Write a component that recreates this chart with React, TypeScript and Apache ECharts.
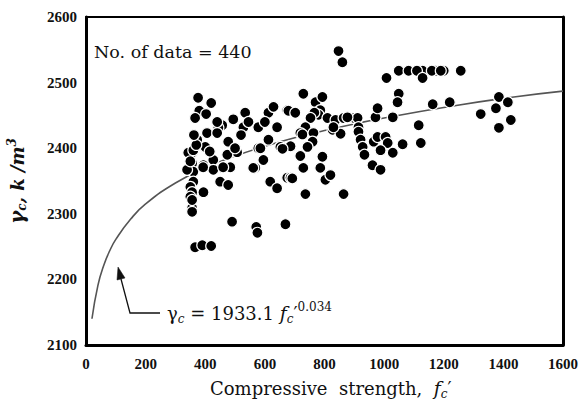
import React, { useEffect, useRef } from "react";
import * as echarts from "echarts";

// Scatter data (compressive strength, unit weight)
const strength = [
  376, 420, 380, 366, 403, 534, 494, 457, 444, 406, 373, 528, 578, 612, 629, 641, 612, 675, 440, 477,
  507, 356, 356, 394, 427, 474, 484, 457, 427, 360, 450, 360, 350, 356, 394, 578, 595, 568, 618, 641,
  675, 652, 400, 343, 360, 339, 350, 356, 356, 356, 366, 390, 420, 490, 571, 575, 669, 585, 561, 686,
  477, 460, 393, 370, 350, 362, 415, 440, 520, 545, 600, 500,
  860, 847, 1008, 729, 770, 793, 786, 780, 766, 679, 702, 753, 736, 719, 726, 810, 837, 864, 900, 971,
  978, 827, 854, 911, 914, 914, 921, 928, 934, 763, 760, 743, 686, 659, 719, 793, 965, 978, 1005, 1012,
  988, 1029, 1062, 729, 786, 803, 820, 692, 961, 988, 736, 864, 830, 877,
  1049, 1082, 1129, 1173, 1200, 1257, 1110, 1160, 1190, 1129, 1049, 1045, 1163, 1220, 1385, 1415, 1375,
  1324, 1425, 1385, 1116, 1123, 1029,
];
const density = [
  2477, 2469, 2457, 2446, 2452, 2454, 2444, 2435, 2431, 2423, 2413, 2432, 2432, 2454, 2463, 2432, 2413, 2458, 2423, 2410,
  2394, 2393, 2377, 2374, 2382, 2390, 2371, 2370, 2367, 2364, 2349, 2349, 2341, 2333, 2333, 2400, 2382, 2370, 2349, 2339,
  2355, 2402, 2402, 2393, 2397, 2367, 2326, 2309, 2321, 2303, 2249, 2252, 2251, 2288, 2280, 2271, 2284, 2400, 2370, 2355,
  2344, 2371, 2371, 2405, 2380, 2420, 2395, 2440, 2420, 2440, 2440, 2400,
  2531, 2548, 2507, 2483, 2470, 2478, 2458, 2451, 2454, 2457, 2454, 2446, 2432, 2423, 2421, 2446, 2443, 2446, 2446, 2447,
  2461, 2428, 2422, 2446, 2432, 2425, 2413, 2402, 2390, 2423, 2410, 2402, 2403, 2399, 2388, 2387, 2410, 2417, 2417, 2408,
  2397, 2393, 2406, 2370, 2370, 2352, 2359, 2354, 2374, 2367, 2330, 2330, 2432, 2447,
  2518, 2518, 2518, 2518, 2518, 2518, 2518, 2518, 2518, 2507, 2483, 2470, 2467, 2470, 2478, 2470, 2461,
  2452, 2443, 2431, 2435, 2408, 2447,
];

// Fitted curve γc = 1933.1 fc'^0.034
const curveStrength = [20, 40, 60, 80, 100, 150, 200, 300, 400, 500, 600, 700, 800, 900, 1000, 1200, 1400, 1600];
const curveDensity = [2140, 2191, 2222, 2244, 2261, 2292, 2315, 2347, 2370, 2388, 2403, 2416, 2427, 2437, 2446, 2462, 2476, 2487];

const xTicks = { min: 0, max: 1600, interval: 200 };
const yTicks = { min: 2100, max: 2600, interval: 100 };

const SERIF = "'DejaVu Serif', 'Liberation Serif', serif";
const TICKFONT = "'Liberation Serif', 'DejaVu Serif', serif";

const tickLabel = {
  color: "#111",
  fontFamily: TICKFONT,
  fontWeight: "bold",
  fontSize: 15,
  formatter: (v: number) => String(v),
};

export default function App() {
  const ref = useRef<HTMLDivElement>(null);
  useEffect(() => {
    if (!ref.current) return;
    const chart = echarts.init(ref.current, null, { renderer: "svg" });
    const scatter = strength.map((x, i) => [x, density[i]]);
    const curve = curveStrength.map((x, i) => [x, curveDensity[i]]);
    const frameAxis = {
      type: "value",
      axisLine: { show: true, lineStyle: { color: "#000", width: 2.5 } },
      axisTick: { show: false },
      axisLabel: { show: false },
      splitLine: { show: false },
    };
    chart.setOption({
      animation: false,
      backgroundColor: "#fff",
      grid: {
        left: 86,
        right: 16,
        top: 17,
        bottom: 58,
        containLabel: false,
        outerBoundsMode: "none",
      },
      xAxis: [
        {
          type: "value",
          ...xTicks,
          axisLine: { show: true, onZero: false, lineStyle: { color: "#000", width: 3 } },
          axisTick: { show: false },
          splitLine: { show: false },
          axisLabel: { margin: 11, ...tickLabel },
        },
        { ...frameAxis, ...xTicks, position: "top", axisLine: { show: true, onZero: false, lineStyle: { color: "#000", width: 2 } } },
      ],
      yAxis: [
        {
          type: "value",
          ...yTicks,
          axisLine: { show: true, onZero: false, lineStyle: { color: "#000", width: 3 } },
          axisTick: { show: false },
          splitLine: { show: false },
          axisLabel: { margin: 9, ...tickLabel },
          name: "{g|γ}{sub|c}{n|, k /m}{sup|3}",
          nameLocation: "middle",
          nameRotate: 90,
          nameGap: 58,
          nameTextStyle: {
            rich: {
              g: { fontFamily: SERIF, fontStyle: "italic", fontWeight: "bold", fontSize: 20, color: "#111", lineHeight: 22 },
              sub: { fontFamily: SERIF, fontStyle: "italic", fontWeight: "bold", fontSize: 12, color: "#111", lineHeight: 8, verticalAlign: "bottom" },
              n: { fontFamily: SERIF, fontStyle: "italic", fontWeight: "bold", fontSize: 18, color: "#111", lineHeight: 22 },
              sup: { fontFamily: SERIF, fontStyle: "italic", fontWeight: "bold", fontSize: 12, color: "#111", lineHeight: 8, verticalAlign: "top" },
            },
          },
        },
        { ...frameAxis, ...yTicks, position: "right", axisLine: { show: true, onZero: false, lineStyle: { color: "#000", width: 3 } } },
      ],
      series: [
        {
          type: "line",
          data: curve,
          smooth: true,
          showSymbol: false,
          symbol: "none",
          lineStyle: { color: "#555", width: 1.6 },
          z: 1,
        },
        {
          type: "scatter",
          data: scatter,
          symbol: "circle",
          symbolSize: 11,
          itemStyle: { color: "#000", borderColor: "#fff", borderWidth: 1.2, opacity: 1 },
          z: 2,
        },
      ],
      graphic: [
        {
          type: "text",
          x: 94,
          y: 52,
          style: {
            text: "No. of data = 440",
            font: `17.5px ${SERIF}`,
            fill: "#111",
            verticalAlign: "middle",
            align: "left",
          },
        },
        {
          type: "polyline",
          shape: { points: [[160, 313], [130, 313], [121, 279]] },
          style: { stroke: "#111", lineWidth: 1.3, fill: null },
        },
        {
          type: "polygon",
          shape: { points: [[118, 267], [125, 278], [117, 280]] },
          style: { fill: "#111", stroke: "#111", lineWidth: 0.5 },
        },
        {
          type: "text",
          x: 167,
          y: 313,
          style: {
            text: "{t|γ}{sub|c}{t| = 1933.1 }{fi|f}{sub|c}{t|′}{sup|0.034}",
            verticalAlign: "middle",
            align: "left",
            rich: {
              t: { fontFamily: SERIF, fontSize: 18, fill: "#111", lineHeight: 24 },
              fi: { fontFamily: SERIF, fontStyle: "italic", fontSize: 19, fill: "#111", lineHeight: 24 },
              sub: { fontFamily: SERIF, fontStyle: "italic", fontSize: 12, fill: "#111", lineHeight: 8, verticalAlign: "bottom" },
              sup: { fontFamily: SERIF, fontSize: 12, fill: "#111", lineHeight: 8, verticalAlign: "top" },
            },
          },
        },
        {
          type: "text",
          x: 210,
          y: 388,
          style: {
            text: "{t|Compressive  strength,  }{fi|f}{sub|c}{t|′}",
            verticalAlign: "middle",
            align: "left",
            rich: {
              t: { fontFamily: SERIF, fontSize: 18, fill: "#111", lineHeight: 24 },
              fi: { fontFamily: SERIF, fontStyle: "italic", fontSize: 19, fill: "#111", lineHeight: 24 },
              sub: { fontFamily: SERIF, fontStyle: "italic", fontSize: 12, fill: "#111", lineHeight: 8, verticalAlign: "bottom" },
            },
          },
        },
      ],
    });
    return () => chart.dispose();
  }, []);
  return <div ref={ref} style={{ width: 579, height: 403, position: "absolute", left: 0, top: 0 }} />;
}
